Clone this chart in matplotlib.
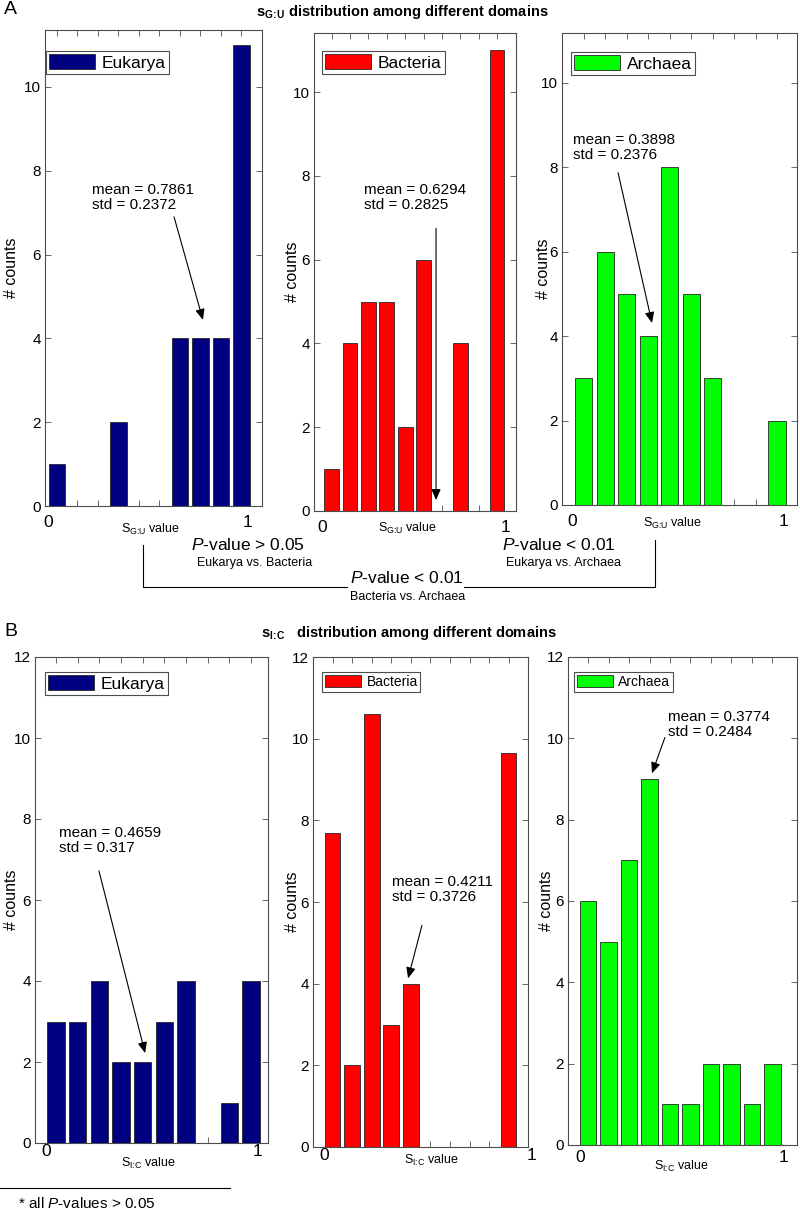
import matplotlib
matplotlib.use('Agg')
import matplotlib.pyplot as plt
from matplotlib.lines import Line2D

plt.rcParams['font.family'] = ['Liberation Sans', 'DejaVu Sans']
plt.rcParams['mathtext.fontset'] = 'custom'
plt.rcParams['mathtext.rm'] = 'Liberation Sans'
plt.rcParams['mathtext.it'] = 'Liberation Sans:italic'
plt.rcParams['mathtext.bf'] = 'Liberation Sans:bold'

# ---------------- data ----------------
bin_centers = [0.05, 0.15, 0.25, 0.35, 0.45, 0.55, 0.65, 0.75, 0.85, 0.95]
domains = ['Eukarya', 'Bacteria', 'Archaea']
colors = ['#000080', '#FF0000', '#00FF00']

sgu_eukarya = [1, 0, 0, 2, 0, 0, 4, 4, 4, 11]
sgu_bacteria = [1, 4, 5, 5, 2, 6, 0, 4, 0, 11]
sgu_archaea = [3, 6, 5, 4, 8, 5, 3, 0, 0, 2]
sic_eukarya = [3, 3, 4, 2, 2, 3, 4, 0, 1, 4]
sic_bacteria = [7.7, 2, 10.6, 3, 4, 0, 0, 0, 0, 9.65]
sic_archaea = [6, 5, 7, 9, 1, 1, 2, 2, 1, 2]

sgu_mean = ['0.7861', '0.6294', '0.3898']
sgu_std = ['0.2372', '0.2825', '0.2376']
sic_mean = ['0.4659', '0.4211', '0.3774']
sic_std = ['0.317', '0.3726', '0.2484']

pvals_A = ['> 0.05', '< 0.01', '< 0.01']
pairs_A = ['Eukarya vs. Bacteria', 'Eukarya vs. Archaea', 'Bacteria vs. Archaea']

# ---------------- layout ----------------
W, H = 800, 1218
fig = plt.figure(figsize=(W / 100, H / 100), dpi=100)

xlab_gu = r'S$_{\text{G:U}}$ value'
xlab_ic = r'S$_{\text{I:C}}$ value'

panels = [
    # row A
    dict(vals=sgu_eukarya, c=0, box=(45, 30, 262, 506), xlim=(-0.0085, 1.05), ylim=(0, 11.36), yt=range(0, 11, 2),
         leg=(46, 51), legfs=12.5, mean=sgu_mean[0], std=sgu_std[0], txt=(0.221, 7.36),
         arr=((0.621, 6.90), (0.762, 4.44)), lab0=(48, 522), lab1=(248, 522), xl=(150, 529), yl=19,
         xlab=xlab_gu),
    dict(vals=sgu_bacteria, c=1, box=(314, 33, 516, 511), xlim=(-0.046, 1.053), ylim=(0, 11.41), yt=range(0, 11, 2),
         leg=(322, 51), legfs=12.5, mean=sgu_mean[1], std=sgu_std[1], txt=(0.226, 7.48),
         arr=((0.618, 6.75), (0.618, 0.26)), lab0=(322, 528), lab1=(505, 528), xl=(407, 528), yl=300,
         xlab=xlab_gu),
    dict(vals=sgu_archaea, c=2, box=(562, 33, 797, 505), xlim=(-0.051, 1.043), ylim=(0, 11.18), yt=range(0, 11, 2),
         leg=(571, 52), legfs=12.5, mean=sgu_mean[2], std=sgu_std[2], txt=(0.0, 8.47),
         arr=((0.21, 7.87), (0.368, 4.31)), lab0=(572, 521), lab1=(783, 521), xl=(672, 523), yl=551,
         xlab=xlab_gu),
    # row B
    dict(vals=sic_eukarya, c=0, box=(35, 657, 268, 1143), xlim=(-0.047, 1.028), ylim=(0, 12), yt=range(0, 13, 2),
         leg=(45, 672), legfs=12.5, mean=sic_mean[0], std=sic_std[0], txt=(0.064, 7.48),
         arr=((0.248, 6.72), (0.461, 2.22)), lab0=(46, 1152), lab1=(258, 1152), xl=(148, 1163), yl=19,
         xlab=xlab_ic),
    dict(vals=sic_bacteria, c=1, box=(313, 657, 528, 1147), xlim=(-0.05, 1.049), ylim=(0, 12), yt=range(0, 13, 2),
         leg=(322, 672), legfs=10, mean=sic_mean[1], std=sic_std[1], txt=(0.354, 6.3),
         arr=((0.507, 5.43), (0.436, 4.13)), lab0=(324, 1156), lab1=(532, 1156), xl=(431, 1160), yl=300,
         xlab=xlab_ic),
    dict(vals=sic_archaea, c=2, box=(568, 657, 797, 1145), xlim=(-0.048, 1.07), ylim=(0, 12), yt=range(0, 13, 2),
         leg=(574, 672), legfs=10, mean=sic_mean[2], std=sic_std[2], txt=(0.44, 10.35),
         arr=((0.425, 10.02), (0.362, 9.14)), lab0=(580, 1157), lab1=(783, 1157), xl=(681, 1166), yl=554,
         xlab=xlab_ic),
]

spine_col = '0.3'

for p in panels:
    l, t, r, b = p['box']
    ax = fig.add_axes([l / W, 1 - b / H, (r - l) / W, (b - t) / H])
    ax.bar(bin_centers, p['vals'], width=0.08, color=colors[p['c']], edgecolor='0.15',
           linewidth=0.6, label=domains[p['c']], zorder=2)
    ax.set_xlim(*p['xlim'])
    ax.set_ylim(*p['ylim'])
    ax.set_xticks(bin_centers)
    ax.set_xticklabels([])
    ax.set_yticks(list(p['yt']))
    ax.tick_params(direction='in', top=True, right=True, length=4, width=0.6,
                   color=spine_col, labelsize=11, pad=3)
    for s in ax.spines.values():
        s.set_color(spine_col)
        s.set_linewidth(0.8)
    # axis end labels 0 and 1
    for txt, (px, py) in (('0', p['lab0']), ('1', p['lab1'])):
        ax.text((px - l) / (r - l), (b - py) / (b - t), txt, transform=ax.transAxes,
                ha='center', va='center', fontsize=12.5)
    px, py = p['xl']
    ax.text((px - l) / (r - l), (b - py) / (b - t), p['xlab'], transform=ax.transAxes,
            ha='center', va='center', fontsize=9)
    ax.set_ylabel('# counts', fontsize=11.5)
    ax.yaxis.set_label_coords((p['yl'] - l) / (r - l), 0.5)
    lx, ly = p['leg']
    leg = ax.legend(loc='upper left', bbox_to_anchor=((lx - l) / (r - l), (b - ly) / (b - t)),
                    borderaxespad=0, fontsize=p['legfs'], frameon=True, fancybox=False,
                    framealpha=1, edgecolor='0.3', handlelength=2.6, handleheight=0.9,
                    handletextpad=0.4, borderpad=0.2)
    leg.get_frame().set_linewidth(0.8)
    ax.text(p['txt'][0], p['txt'][1], 'mean = %s\nstd = %s' % (p['mean'], p['std']),
            ha='left', va='center', fontsize=11, linespacing=1.1, zorder=5)
    (x0, y0), (x1, y1) = p['arr']
    ax.annotate('', xy=(x1, y1), xytext=(x0, y0),
                arrowprops=dict(arrowstyle='-|>,head_length=0.65,head_width=0.28',
                                color='k', lw=0.8, shrinkA=0, shrinkB=0), zorder=5)

# ---------------- overlay (figure pixel coords) ----------------
ov = fig.add_axes([0, 0, 1, 1])
ov.set_xlim(0, W)
ov.set_ylim(H, 0)
ov.axis('off')

ov.text(4, 10, 'A', fontsize=14, ha='left', va='center')
ov.text(4, 632, 'B', fontsize=14, ha='left', va='center')
ov.text(402, 12, r'$\mathbf{s}_{\mathbf{G\!:\!U}}$ distribution among different domains',
        fontsize=10.5, fontweight='bold', ha='center', va='center')
ov.text(409, 633, r'$\mathbf{s}_{\mathbf{I\!:\!C}}$   distribution among different domains',
        fontsize=10.5, fontweight='bold', ha='center', va='center')

# significance bracket
lk = dict(color='k', lw=0.8)
ov.add_line(Line2D([143, 143, 347], [545, 587, 587], **lk))
ov.add_line(Line2D([464, 655, 655], [587, 587, 540], **lk))

ptxt = [(248, 545, 255, 563), (559, 545, 563, 563), (407, 578, 408, 597)]
for (x1, y1, x2, y2), pv, pr in zip(ptxt, pvals_A, pairs_A):
    ov.text(x1, y1, r'$\it{P}$-value ' + pv, fontsize=12.5, ha='center', va='center')
    ov.text(x2, y2, pr, fontsize=9, ha='center', va='center')

# footnote
ov.add_line(Line2D([0, 230], [1188, 1188], **lk))
ov.text(18, 1204, r'* all $\it{P}$-values > 0.05', fontsize=11, ha='left', va='center')

fig.savefig('out.png', dpi=100)
